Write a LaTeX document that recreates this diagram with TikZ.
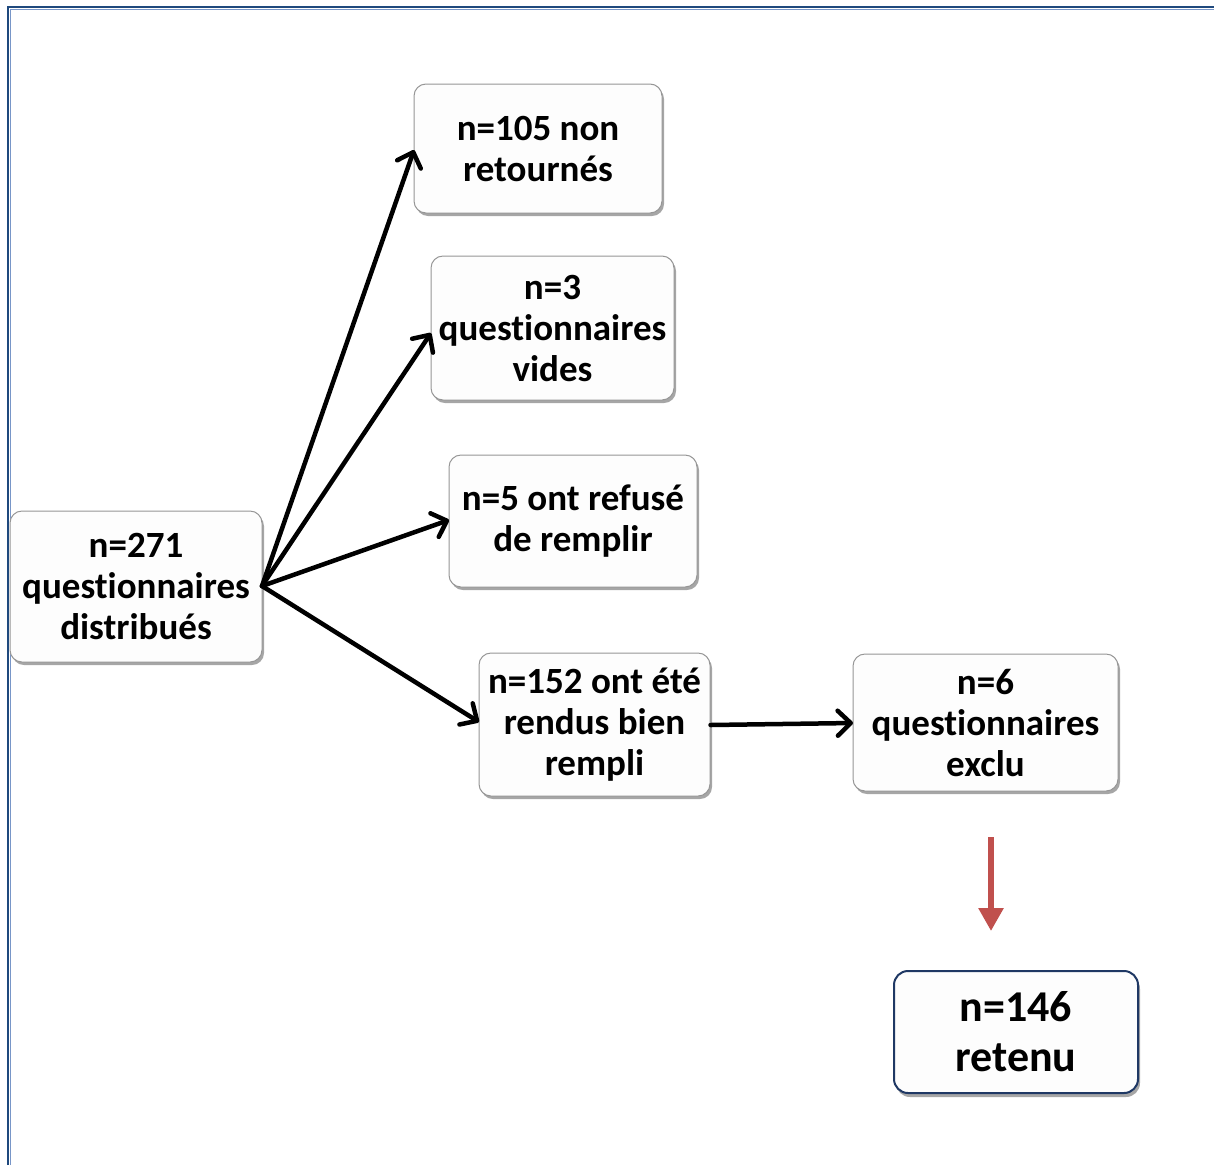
\documentclass[tikz,border=0pt]{standalone}
\usepackage{fontspec}
\setmainfont{Carlito}[RawFeature={-liga}]
\usetikzlibrary{arrows.meta,shadows}
\definecolor{frameblue}{RGB}{31,73,125}
\definecolor{framelight}{RGB}{120,150,200}
\definecolor{boxgray}{RGB}{150,150,150}
\definecolor{arrred}{RGB}{192,80,77}
\definecolor{retblue}{RGB}{31,56,100}
\begin{document}
\begin{tikzpicture}[x=1pt,y=-1pt,
  box/.style={draw=boxgray,line width=1pt,fill={rgb,255:red,253;green,253;blue,253},rounded corners=12pt,
    align=center,font=\bfseries\fontsize{37}{41}\selectfont,inner sep=0pt,
    drop shadow={shadow xshift=2pt,shadow yshift=-3pt,opacity=0.35,fill=black}},
  rbox/.style={draw=retblue,line width=2pt,fill={rgb,255:red,253;green,253;blue,253},rounded corners=14pt,
    align=center,font=\bfseries\fontsize{44}{50}\selectfont,inner sep=0pt,
    drop shadow={shadow xshift=2pt,shadow yshift=-4pt,opacity=0.35,fill=black}},
  link/.style={line width=4.5pt,line cap=round,-{Straight Barb[length=13pt,width=25pt,line width=4.5pt,round]}},
  redarrow/.style={draw=arrred,line width=6pt,-{Triangle[length=23pt,width=24pt]}}
  ]
\useasboundingbox (0,0) rectangle (1214,1165);
% frame
\draw[frameblue,line width=2.5pt] (8,1165) -- (8,7) -- (1214,7);
\draw[framelight,line width=0.8pt] (10.5,1165) -- (10.5,9.5) -- (1214,9.5);

\node[box,minimum width=252pt,minimum height=151pt] (a) at (136,586.5) {n=271\\questionnaires\\distribués};
\node[box,minimum width=248pt,minimum height=129pt] (b) at (538,148.5) {n=105 non\\retournés};
\node[box,minimum width=243pt,minimum height=144pt] (c) at (552.5,328) {n=3\\questionnaires\\vides};
\node[box,minimum width=248pt,minimum height=132pt] (d) at (573,521) {n=5 ont refusé\\de remplir};
\node[box,minimum width=231pt,minimum height=143pt] (e) at (594.5,724.5) {n=152 ont été\\rendus bien\\rempli};
\node[box,minimum width=265pt,minimum height=137pt] (f) at (985.5,722.5) {n=6\\questionnaires\\exclu};
\node[rbox,minimum width=244pt,minimum height=122pt] (g) at (1016,1032) {n=146\\retenu};

\coordinate (o) at (262,586);
\draw[link] (o) -- (414,150);
\draw[link] (o) -- (431,333);
\draw[link] (o) -- (449,520);
\draw[link] (o) -- (479,722);
\draw[link] (e.east |- 0,725) -- (853,723);

\coordinate (r1) at (991,837);
\coordinate (r2) at (991,931);
\draw[redarrow] (r1) -- (r2);
\end{tikzpicture}
\end{document}
